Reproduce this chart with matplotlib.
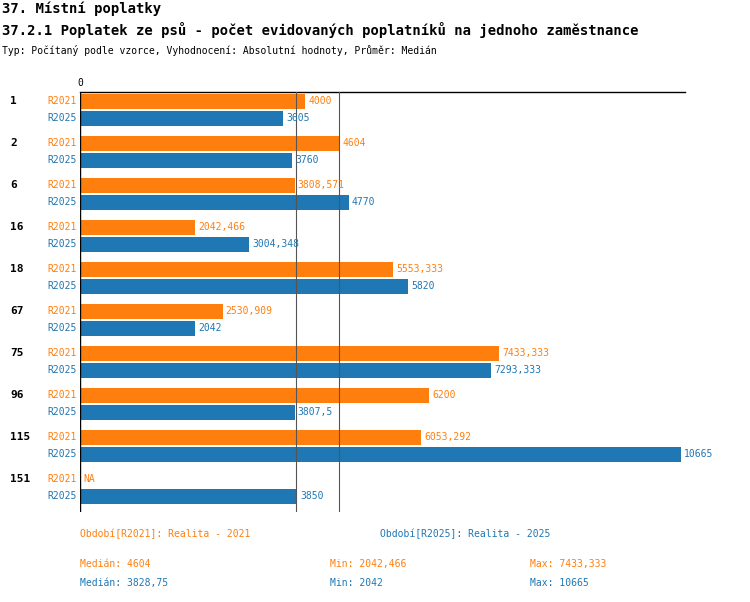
import matplotlib.pyplot as plt

plt.rcParams['font.family'] = ['DejaVu Sans Mono']

groups = ["1", "2", "6", "16", "18", "67", "75", "96", "115", "151"]
r2021 = [4000, 4604, 3808.571, 2042.466, 5553.333, 2530.909, 7433.333, 6200, 6053.292, None]
r2025 = [3605, 3760, 4770, 3004.348, 5820, 2042, 7293.333, 3807.5, 10665, 3850]
med2021, med2025 = 4604, 3828.75

ORANGE = "#ff7f0e"
BLUE = "#1f77b4"
W, H = 750, 602

def fmt(v):
    s = f"{v:.3f}".rstrip("0").rstrip(".")
    return s.replace(".", ",")

fig = plt.figure(figsize=(W / 100, H / 100), dpi=100, facecolor="white")
x0, x1 = 80, 681
ytop, ybot = 92, 512
ax = fig.add_axes([x0 / W, 1 - ybot / H, (x1 - x0) / W, (ybot - ytop) / H])
ax.set_xlim(0, 10665)
ax.set_ylim(ybot, ytop)
ax.axis("off")

# axes lines
ax.plot([0, 10665 * (685 - x0) / (x1 - x0)], [ytop, ytop], color="black", lw=1, clip_on=False)
ax.plot([0, 0], [ytop, ybot], color="black", lw=1)
for m in (med2025, med2021):
    ax.plot([m, m], [ytop, ybot], color="#555555", lw=0.8)
ax.text(0, ytop - 4, "0", fontsize=7, ha="center", va="bottom")

def fx(px):
    return (px - x0) / W * 0 + (px - x0) * 10665 / (x1 - x0)

for i, g in enumerate(groups):
    ya = 101 + 42 * i
    yb = 118 + 42 * i
    ax.text(fx(10), ya, g, fontsize=8, fontweight="bold", va="center", ha="left", clip_on=False)
    ax.text(fx(47), ya, "R2021", fontsize=7, color=ORANGE, va="center", clip_on=False)
    ax.text(fx(47), yb, "R2025", fontsize=7, color=BLUE, va="center", clip_on=False)
    v = r2021[i]
    if v is None:
        ax.text(fx(83), ya, "NA", fontsize=7, color=ORANGE, va="center")
    else:
        ax.barh(ya, v, height=15, color=ORANGE)
        ax.text(v + fx(83), ya, fmt(v), fontsize=7, color=ORANGE, va="center", clip_on=False)
    v = r2025[i]
    ax.barh(yb, v, height=15, color=BLUE)
    ax.text(v + fx(83), yb, fmt(v), fontsize=7, color=BLUE, va="center", clip_on=False)

def ft(x, y, s, **kw):
    fig.text(x / W, 1 - y / H, s, va="center", **kw)

ft(2, 9, "37. Místní poplatky", fontsize=10, fontweight="bold")
ft(2, 30, "37.2.1 Poplatek ze psů - počet evidovaných poplatníků na jednoho zaměstnance", fontsize=10, fontweight="bold")
ft(2, 50, "Typ: Počítaný podle vzorce, Vyhodnocení: Absolutní hodnoty, Průměr: Medián", fontsize=7)

ft(80, 534, "Období[R2021]: Realita - 2021", fontsize=7, color=ORANGE)
ft(380, 534, "Období[R2025]: Realita - 2025", fontsize=7, color=BLUE)
ft(80, 564, "Medián: 4604", fontsize=7, color=ORANGE)
ft(330, 564, "Min: 2042,466", fontsize=7, color=ORANGE)
ft(530, 564, "Max: 7433,333", fontsize=7, color=ORANGE)
ft(80, 583, "Medián: 3828,75", fontsize=7, color=BLUE)
ft(330, 583, "Min: 2042", fontsize=7, color=BLUE)
ft(530, 583, "Max: 10665", fontsize=7, color=BLUE)

fig.savefig("out.png", dpi=100, facecolor="white")
